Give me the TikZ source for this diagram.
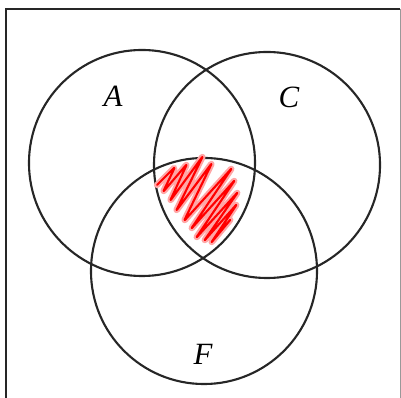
\documentclass[tikz,border=0pt]{standalone}
\usepackage{fontspec}
\setmainfont{Liberation Serif}
\usepackage{tikz}
\begin{document}
\begin{tikzpicture}[x=0.025cm,y=-0.025cm,
  setcircle/.style={circle,draw=black!85,line width=1.5pt,minimum size=5.65cm,inner sep=0pt},
  setlabel/.style={font=\fontsize{22}{26}\selectfont\itshape},
  scribble/.style={line join=round,line cap=round,rounded corners=1.5pt}
]
\useasboundingbox (0,0) rectangle (401,398);
% frame
\draw[line width=1.4pt,black!85] (6,398) -- (6,9) -- (400,9);
\draw[line width=0.5pt,black!40] (400,9) -- (400,398);
% sets
\node[setcircle] (A) at (142,163) {};
\node[setcircle] (C) at (267,165) {};
\node[setcircle] (F) at (204,271) {};
\node[setlabel] (la) at (113,96) {A};
\node[setlabel] (lc) at (289,97) {C};
\node[setlabel] (lf) at (203,354) {F};
% shaded intersection
\foreach \w/\c in {4.5pt/red!35,1.5pt/red}
  \draw[scribble,line width=\w,\c]
    (157,185) -- (175,167) -- (163,192) -- (187,164) -- (170,201) -- (203,156)
    -- (176,211) -- (212,163) -- (184,221) -- (232,168) -- (191,229) -- (235,180)
    -- (196,238) -- (238,192) -- (204,241) -- (237,204) -- (211,243) -- (231,219)
    -- (216,236);
\end{tikzpicture}
\end{document}
